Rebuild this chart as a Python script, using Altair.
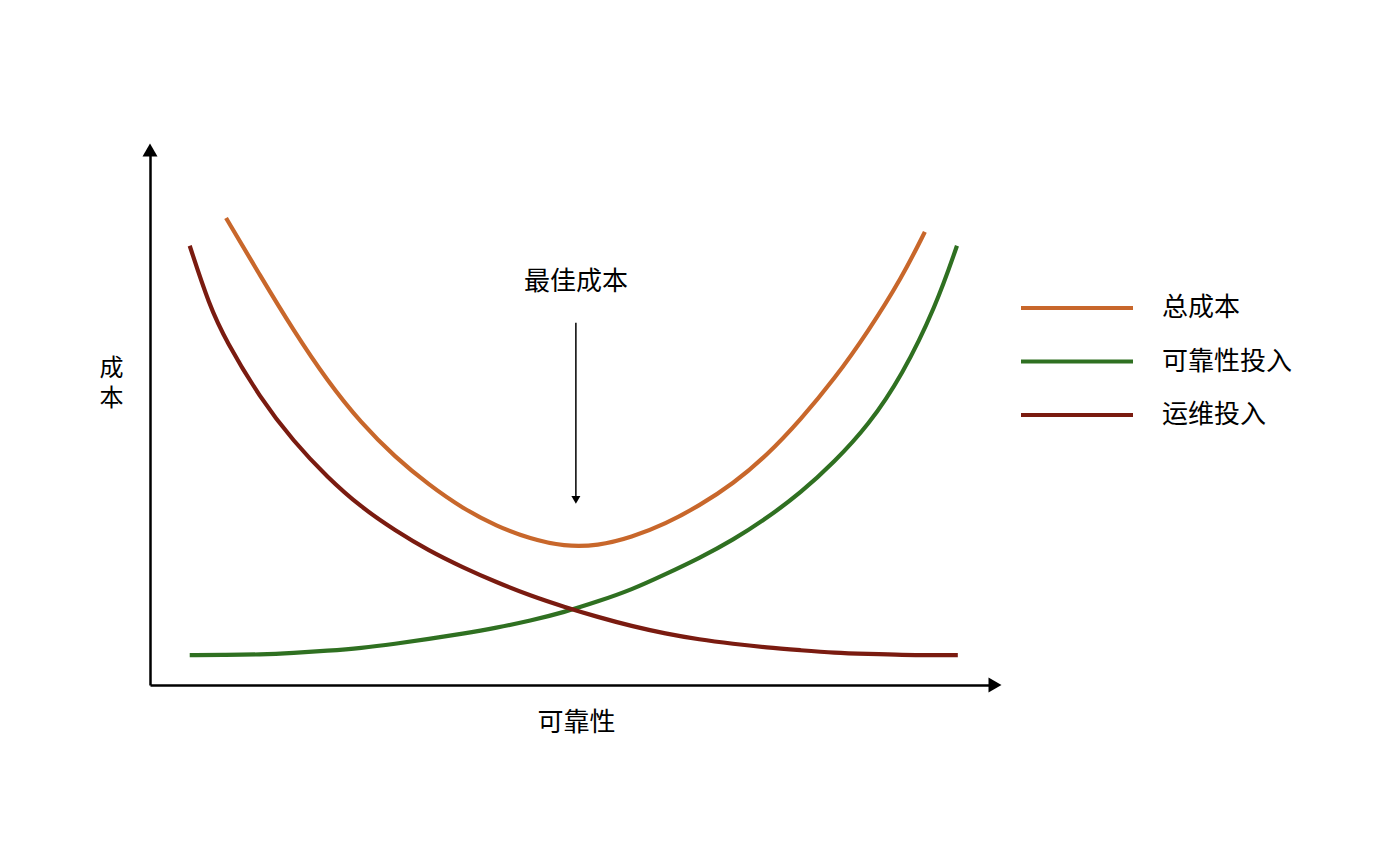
import altair as alt
import pandas as pd

FONT = "Noto Sans CJK SC"

series_names = ["总成本", "可靠性投入", "运维投入"]
series_colors = ["#C8672B", "#2F7021", "#7A1B10"]

total_x = [9.0, 13, 17, 21, 25, 29, 33, 37, 41, 45, 49, 53, 57, 61, 65, 69,
           73, 77, 81, 85, 89, 91.7]
total_y = [87.3, 76.6, 66.2, 56.8, 48.9, 42.6, 37.4, 33.0, 29.7, 27.3, 25.9,
           26.0, 27.6, 30.1, 33.5, 37.6, 42.9, 49.6, 57.2, 66.1, 76.2, 84.7]

rel_x = [4.7, 9, 13, 17, 21, 25, 29, 33, 37, 41, 45, 49, 53, 57, 61, 65, 69, 73,
         77, 81, 85, 89, 93, 95.5]
rel_y = [5.6, 5.6, 5.7, 6.0, 6.4, 6.9, 7.7, 8.6, 9.6, 10.7, 12.0, 13.6, 15.6,
         17.8, 20.7, 23.7, 27.1, 31.2, 35.9, 41.7, 48.5, 57.8, 70.8, 82.1]

ops_x = [4.7, 7, 9, 13, 17, 21, 25, 29, 33, 37, 41, 45, 49, 53, 57, 61, 65, 69,
         73, 77, 81, 85, 89, 93, 95.6]
ops_y = [82.1, 71.0, 64.3, 53.7, 45.5, 38.8, 33.2, 28.9, 25.1, 22.0, 19.2, 16.7,
         14.6, 12.7, 11.0, 9.6, 8.5, 7.7, 7.0, 6.5, 6.0, 5.8, 5.6, 5.6, 5.6]

x_title = "可靠性"
y_title = ["成", "本"]

best_label = "最佳成本"
best_x = 50.4
best_text_y = 75.3
best_arrow_from = 67.7
best_arrow_to = 34.6

rows = []
for name, xs, ys in [(series_names[0], total_x, total_y),
                     (series_names[1], rel_x, rel_y),
                     (series_names[2], ops_x, ops_y)]:
    for i, (xv, yv) in enumerate(zip(xs, ys)):
        rows.append({"series": name, "x": xv, "y": yv, "i": i})
df = pd.DataFrame(rows)

xscale = alt.Scale(domain=[0, 100], nice=False, zero=False)
yscale = alt.Scale(domain=[0, 100], nice=False, zero=False)

x_axis = alt.Axis(title=x_title, labels=False, ticks=False, grid=False,
                  domainColor="black", domainWidth=2.5, titleFont=FONT,
                  titleFontSize=26, titleFontWeight="normal", titleColor="black",
                  titlePadding=24, titleX=426, titleAlign="center")
y_axis = alt.Axis(title=y_title, labels=False, ticks=False, grid=False,
                  domainColor="black", domainWidth=2.5, titleFont=FONT,
                  titleFontSize=24, titleFontWeight="normal", titleColor="black",
                  titleAngle=0, titleX=-39, titleY=218, titleAlign="center",
                  titleBaseline="middle", titleLineHeight=30)

lines = alt.Chart(df).mark_line(strokeWidth=4.2, interpolate="basis").encode(
    x=alt.X("x:Q", scale=xscale, axis=x_axis),
    y=alt.Y("y:Q", scale=yscale, axis=y_axis),
    color=alt.Color("series:N",
                    scale=alt.Scale(domain=series_names, range=series_colors),
                    sort=series_names,
                    legend=alt.Legend(title=None, orient="none", legendX=869,
                                      legendY=132.5, symbolType="stroke",
                                      symbolSize=12544, symbolStrokeWidth=4,
                                      clipHeight=51, rowPadding=2.5,
                                      labelOffset=27, labelFont=FONT,
                                      labelFontSize=26, labelColor="black",
                                      padding=0, labelLimit=400)),
    order="i:Q",
)

arrow_df = pd.DataFrame({"x": [100, 0], "y": [0, 100],
                         "shape": ["triangle-right", "triangle-up"]})
axis_heads = alt.Chart(arrow_df).mark_point(filled=True, size=225, color="black",
                                            opacity=1, clip=False).encode(
    x=alt.X("x:Q", scale=xscale),
    y=alt.Y("y:Q", scale=yscale),
    shape=alt.Shape("shape:N", scale=None, legend=None),
)

ann_df = pd.DataFrame({"x": [best_x], "y": [best_text_y], "y1": [best_arrow_from],
                       "y2": [best_arrow_to], "label": [best_label]})
ann_text = alt.Chart(ann_df).mark_text(font=FONT, fontSize=26, color="black",
                                       align="center", baseline="middle").encode(
    x=alt.X("x:Q", scale=xscale), y=alt.Y("y:Q", scale=yscale), text="label:N")
ann_rule = alt.Chart(ann_df).mark_rule(color="black", strokeWidth=1.5).encode(
    x=alt.X("x:Q", scale=xscale), y=alt.Y("y1:Q", scale=yscale),
    y2=alt.Y2("y2:Q"))
ann_head = alt.Chart(ann_df).mark_point(shape="triangle-down", filled=True,
                                        size=81, color="black", opacity=1).encode(
    x=alt.X("x:Q", scale=xscale), y=alt.Y("y2:Q", scale=yscale))

chart = alt.layer(lines, axis_heads, ann_rule, ann_head, ann_text).properties(
    width=845, height=535,
    autosize=alt.AutoSizeParams(type="none"),
    padding={"left": 142, "top": 142, "right": 370, "bottom": 155},
).configure(font=FONT).configure_view(stroke="transparent")

chart.save("out.html", embed_options={"renderer": "svg", "actions": False})
